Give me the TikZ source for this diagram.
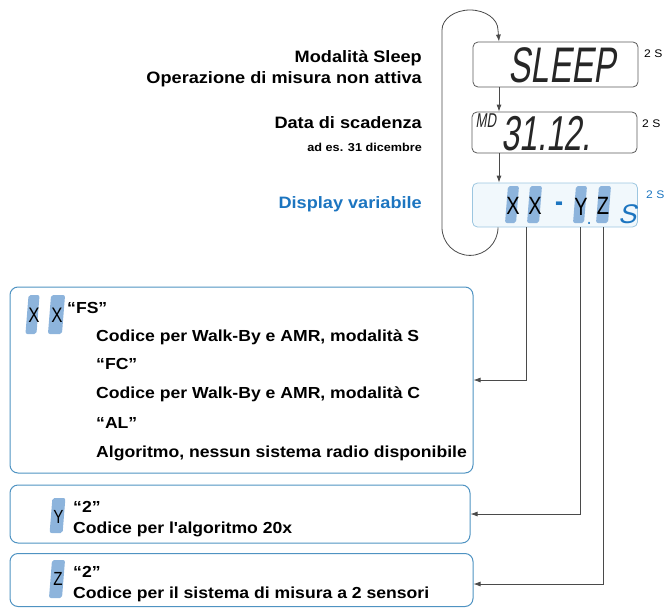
\documentclass[tikz,border=0pt]{standalone}
\usepackage{fontspec}
\setmainfont{Liberation Sans}[FakeStretch=1.1]
\newfontfamily\lcdfont{Liberation Sans}[FakeSlant=0.15,FakeStretch=0.66]
\newfontfamily\digfont{Liberation Sans}[FakeStretch=0.8]
\newfontfamily\sdisp{Liberation Sans}[FakeSlant=0.25]
\usetikzlibrary{arrows.meta,positioning,calc}
\definecolor{cframe}{HTML}{4F93C2}
\definecolor{cvfill}{HTML}{F1F8FC}
\definecolor{cvdraw}{HTML}{9CC6E0}
\definecolor{cseg}{HTML}{8DB4DC}
\definecolor{cblue}{HTML}{1C75C0}
\definecolor{cline}{HTML}{4A4A4A}
\definecolor{clcd}{HTML}{5A5A5A}
\tikzset{
  lcd/.style={draw=clcd, rounded corners=5pt, line width=0.8pt,
              minimum width=165pt, inner sep=0pt},
  lcdv/.style={lcd, draw=cvdraw, fill=cvfill},
  lcdtxt/.style={inner sep=0pt, text=black!85},
  seg/.style={fill=cseg, rounded corners=2pt, inner sep=0pt, xslant=0.08},
  dig/.style={inner sep=0pt, font=\digfont\fontsize{25}{25}\selectfont},
  infobox/.style={draw=cframe, rounded corners=8pt, line width=1pt, inner sep=0pt},
  lbl/.style={anchor=base east, inner sep=0pt, font=\bfseries\fontsize{16.5}{18}\selectfont},
  desc/.style={anchor=base west, inner sep=0pt, font=\bfseries\fontsize{16}{18}\selectfont},
  tsec/.style={anchor=base west, inner sep=0pt, font=\fontsize{11}{12}\selectfont},
  conn/.style={draw=cline, line width=0.8pt, -{Latex[length=7pt,width=5pt]}},
}
\begin{document}
\begin{tikzpicture}[x=1pt,y=-1pt]
  \useasboundingbox (0,0) rectangle (667,608);
  % the three displays
  \node[lcd, minimum height=45pt] (lcdSleep) at (555.5,64.5) {};
  \node[lcd, minimum height=41pt] (lcdData) at (554.5,132.5) {};
  \node[lcdv, minimum height=44pt] (lcdVar) at (555,205) {};
  \node[lcdtxt, font=\lcdfont\fontsize{50}{50}\selectfont] (tSleep) at (562,65) {SLEEP};
  \node[lcdtxt, font=\lcdfont\fontsize{20}{20}\selectfont] (tMD) at (486,121) {MD};
  \node[lcdtxt, font=\lcdfont\fontsize{49}{49}\selectfont] (tDate) at (546,134) {31.12.};
  % variable display
  \node[seg, minimum width=11pt, minimum height=37pt] (sX1) at (512,204.5) {};
  \node[seg, minimum width=12pt, minimum height=37pt] (sX2) at (534.5,204.5) {};
  \node[seg, minimum width=11pt, minimum height=37pt] (sY) at (580,204.5) {};
  \node[seg, minimum width=12pt, minimum height=37pt] (sZ) at (603.5,204.5) {};
  \node[dig] (dX1) at (513,206) {X};
  \node[dig] (dX2) at (535,206) {X};
  \node[dig, anchor=base] (dY) at (581,215) {Y\rlap{\raisebox{-9pt}{\textcolor{cblue}{\bfseries\fontsize{14}{14}\selectfont .}}}};
  \node[dig] (dZ) at (603,206) {Z};
  \node[dig, text=cblue, font=\bfseries\digfont\fontsize{30}{30}\selectfont] (dDash) at (559,207) {-};
  \node[dig, text=cblue, font=\sdisp\fontsize{27}{27}\selectfont] (dS) at (627,214) {S};
  % time per display
  \node[tsec] (t1) at (644,57) {2 S};
  \node[tsec] (t2) at (642,127) {2 S};
  \node[tsec, text=cblue] (t3) at (646,198) {2 S};
  % labels left of the displays
  \node[lbl] (lSleep) at (422,62) {Modalità Sleep};
  \node[lbl] (lOff) at (422,83) {Operazione di misura non attiva};
  \node[lbl] (lData) at (422,128) {Data di scadenza};
  \node[lbl, font=\bfseries\fontsize{11.5}{13}\selectfont] (lEs) at (422,151) {ad es. 31 dicembre};
  \node[lbl, text=cblue] (lVar) at (422,208) {Display variabile};
  % cycle arrows
  \draw[conn] ([xshift=-56.5pt]lcdSleep.south) -- ([xshift=-55.5pt]lcdData.north);
  \draw[conn] ([xshift=-55.5pt]lcdData.south) -- ([xshift=-56pt]lcdVar.north);
  \draw[conn] ([xshift=-57pt]lcdVar.south) arc[start angle=0, end angle=180, radius=28]
    -- (442,30) arc[start angle=180, end angle=360, x radius=28, y radius=20]
    -- ([xshift=-56.5pt]lcdSleep.north);
  % explanation boxes
  \node[infobox, minimum width=463pt, minimum height=186pt] (boxXX) at (241.5,380) {};
  \node[infobox, minimum width=460pt, minimum height=58pt] (boxY) at (240,514) {};
  \node[infobox, minimum width=463pt, minimum height=53pt] (boxZ) at (241.5,580) {};
  \node[seg, minimum width=11pt, minimum height=39pt] (bX1) at (32.5,314.5) {};
  \node[seg, minimum width=14pt, minimum height=39pt] (bX2) at (56.5,314.5) {};
  \node[dig, font=\digfont\fontsize{21}{21}\selectfont] (bdX1) at (34,315) {X};
  \node[dig, font=\digfont\fontsize{21}{21}\selectfont] (bdX2) at (57,315) {X};
  \node[desc] (fs) at (67,313) {“FS”};
  \node[desc] (fsT) at (96,341) {Codice per Walk-By e AMR, modalità S};
  \node[desc] (fc) at (96,369.5) {“FC”};
  \node[desc] (fcT) at (96,398) {Codice per Walk-By e AMR, modalità C};
  \node[desc] (al) at (96,428) {“AL”};
  \node[desc] (alT) at (96,457) {Algoritmo, nessun sistema radio disponibile};
  \node[seg, minimum width=13pt, minimum height=35pt] (bY) at (57.5,515.5) {};
  \node[dig, font=\digfont\fontsize{19}{19}\selectfont] (bdY) at (58.5,517) {Y};
  \node[desc] (y2) at (73,512) {“2”};
  \node[desc] (yT) at (73,533) {Codice per l\textquotesingle algoritmo 20x};
  \node[seg, minimum width=13pt, minimum height=38pt] (bZ) at (57,579) {};
  \node[dig, font=\digfont\fontsize{19}{19}\selectfont] (bdZ) at (58,578.5) {Z};
  \node[desc] (z2) at (73,577) {“2”};
  \node[desc] (zT) at (73,598) {Codice per il sistema di misura a 2 sensori};
  % connectors from the digits
  \coordinate (tapX) at (526,0);
  \draw[conn] (lcdVar.south -| tapX) |- (boxXX.east);
  \draw[conn] (lcdVar.south -| sY) |- (boxY.east);
  \draw[conn] (lcdVar.south -| sZ) |- ([yshift=-4pt]boxZ.east);
\end{tikzpicture}
\end{document}
